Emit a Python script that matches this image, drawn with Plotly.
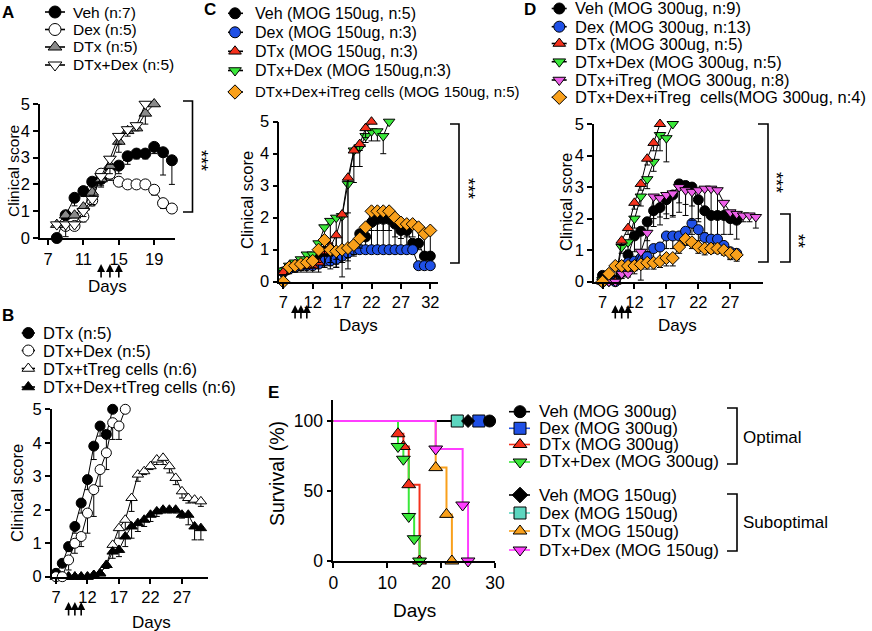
import plotly.graph_objects as go

W, H = 872, 631
FONT = "Liberation Sans, Arial, Helvetica, sans-serif"

BLUE = "#1f50e6"; RED = "#f5311c"; GREEN = "#3ae83a"; ORANGE = "#f9a01b"
PINK = "#ec5fe8"; MAGENTA = "#ff3dff"; TEAL = "#5cd6bf"; GRAY = "#8a8a8a"

# ---------------- Panel A ----------------
A_veh_days = [8, 9, 10, 11, 12, 13, 14, 15, 16, 17, 18, 19, 20, 21]
A_veh = [0, 0.85, 1.5, 1.75, 2.1, 2.2, 2.45, 2.7, 3.05, 3.15, 3.15, 3.4, 3.2, 2.9]
A_veh_err = [0, 0.3, 0.3, 0.2, 0.2, 0.25, 0.25, 0.3, 0.3, 0.2, 0.2, 0.25, 0.85, 0.9]
A_dex_days = [9, 10, 11, 12, 13, 14, 15, 16, 17, 18, 19, 20, 21]
A_dex = [0.45, 0.45, 0.8, 1.4, 2.4, 2.4, 2.1, 2.0, 2.0, 2.0, 1.8, 1.3, 1.1]
A_dex_err = [0, 0, 0.2, 0.2, 0.2, 0.25, 0.15, 0.1, 0.1, 0.1, 0.2, 0.2, 0.1]
A_dtx_days = [8, 9, 10, 11, 12, 13, 14, 15, 16, 17, 18, 19]
A_dtx = [0.5, 0.85, 0.85, 1.15, 1.7, 2.2, 2.7, 3.6, 4.0, 4.1, 4.65, 5.0]
A_dtx_err = [0, 0, 0.1, 0.2, 0.2, 0.3, 0.3, 0.4, 0.2, 0.1, 0.4, 0]
A_dtxdex_days = [8, 9, 10, 11, 12, 13, 14, 15, 16, 17, 18]
A_dtxdex = [0.5, 0.5, 0.5, 1.0, 1.45, 2.3, 2.95, 3.8, 4.05, 4.2, 5.0]
A_dtxdex_err = [0, 0.45, 0, 0.2, 0.2, 0.2, 0.2, 0.3, 0.1, 0.1, 0]
A_treat_days = [13, 14, 15]
A_xticks = [7, 11, 15, 19]

# ---------------- Panel B ----------------
B_dtx_days = [7, 8, 9, 10, 11, 12, 13, 14, 15, 16]
B_dtx = [0.1, 0.4, 0.9, 1.5, 2.2, 2.9, 3.9, 4.5, 4.25, 5.0]
B_dtx_err = [0, 0.1, 0.15, 0.2, 0.3, 0.3, 0.4, 0.3, 0.5, 0]
B_dtxdex_days = [7, 8, 9, 10, 11, 12, 13, 14, 15, 16, 17, 18]
B_dtxdex = [0, 0, 0.5, 1.0, 1.2, 1.9, 2.6, 3.2, 3.7, 4.6, 4.5, 5.0]
B_dtxdex_err = [0, 0, 0.3, 0.3, 0.3, 0.6, 0.8, 0.5, 0.5, 0.5, 0.4, 0]
B_ttreg_days = list(range(7, 31))
B_ttreg = [0, 0, 0, 0, 0, 0, 0.05, 0.1, 0.35, 0.95, 1.45, 1.7, 2.35, 3.05, 3.15, 3.3,
           3.5, 3.55, 3.3, 2.95, 2.55, 2.35, 2.3, 2.25]
B_ttreg_err = [0, 0, 0, 0, 0, 0, 0, 0, 0.1, 0.2, 0.3, 0.3, 0.4, 0.2, 0.1, 0.1,
               0.15, 0.2, 0.2, 0.2, 0.2, 0.15, 0.1, 0.15]
B_dexttreg_days = list(range(7, 31))
B_dexttreg = [0, 0, 0, 0, 0, 0, 0.05, 0.1, 0.35, 0.75, 0.8, 1.2, 1.5, 1.6, 1.7, 1.85,
              1.95, 2.0, 2.0, 2.0, 1.85, 1.85, 1.5, 1.45]
B_dexttreg_err = [0, 0, 0, 0, 0, 0, 0, 0, 0.1, 0.2, 0.2, 0.3, 0.35, 0.25, 0.2, 0.2,
                  0.15, 0.1, 0.1, 0.1, 0.1, 0.3, 0.4, 0.35]
B_treat_days = [9, 10, 11]
B_xticks = [7, 12, 17, 22, 27]

# ---------------- Panel C ----------------
C_days = list(range(7, 33))
C_veh = [0.3, 0.4, 0.5, 0.55, 0.6, 0.6, 0.7, 0.75, 0.8, 0.85, 0.9, 0.95, 1.0, 1.5, 1.4,
         1.85, 1.95, 1.95, 1.95, 1.8, 1.6, 1.6, 1.2, 1.2, 0.8, 0.8]
C_veh_err = [0.1, 0.1, 0.1, 0.1, 0.1, 0.1, 0.2, 0.3, 0.3, 0.3, 0.3, 0.3, 0.2, 0.35, 0.3,
             0.9, 0.9, 0.9, 0.9, 0.8, 0.6, 0.6, 0.2, 0.2, 0.05, 0.05]
C_dex = [0.3, 0.4, 0.45, 0.5, 0.5, 0.5, 0.55, 0.65, 0.65, 0.7, 0.8, 0.9, 1.0, 1.0, 1.0,
         1.0, 1.0, 1.0, 1.0, 1.0, 1.0, 1.0, 1.0, 0.5, 0.5, 0.5]
C_dex_err = [0.1, 0.1, 0.1, 0.1, 0.1, 0.1, 0.1, 0.1, 0.1, 0.1, 0.1, 0.05, 0, 0, 0,
             0, 0, 0, 0, 0, 0, 0, 0, 0, 0, 0]
C_dtx_days = list(range(7, 23))
C_dtx = [0.3, 0.5, 0.5, 0.5, 0.5, 0.5, 0.6, 0.95, 1.1, 1.45, 2.1, 3.25, 4.1, 4.3, 4.8, 5.0]
C_dtx_err = [0.1, 0.15, 0.2, 0.2, 0.2, 0.2, 0.3, 0.5, 0.5, 1.0, 1.5, 1.1, 0.5, 0.2, 0.3, 0]
C_dtxdex_days = list(range(7, 26))
C_dtxdex = [0.35, 0.5, 0.6, 0.7, 0.85, 0.85, 1.2, 1.7, 1.9, 2.0, 2.05, 3.05, 4.1, 4.2,
            4.55, 4.7, 4.7, 4.55, 5.0]
C_dtxdex_err = [0.1, 0.15, 0.2, 0.2, 0.3, 0.3, 0.4, 0.6, 0.7, 1.3, 1.9, 2.65, 1.0, 0.6,
                0.2, 0.3, 0.3, 0.55, 0]
C_itreg = [0, 0.45, 0.5, 0.55, 0.6, 0.65, 1.0, 1.3, 1.0, 0.95, 1.0, 1.05, 1.15, 1.35, 1.7,
           2.2, 2.2, 2.2, 2.2, 2.0, 1.85, 1.8, 1.8, 1.7, 1.5, 1.6]
C_itreg_err = [0, 0.2, 0.2, 0.2, 0.2, 0.2, 0.4, 0.5, 0.6, 0.5, 0.4, 0.3, 0.3, 0.3, 0.4,
               0.6, 0.6, 0.6, 0.6, 0.6, 0.5, 0.4, 0.4, 0.5, 0.6, 0.8]
C_treat_days = [9, 10, 11]
C_xticks = [7, 12, 17, 22, 27, 32]

# ---------------- Panel D ----------------
D_days = list(range(7, 29))
D_veh = [0.2, 0.1, 0.05, 0.5, 0.85, 1.45, 1.6, 1.9, 2.25, 2.35, 2.6, 2.75, 3.1, 3.05, 3.0,
         2.6, 2.25, 2.1, 2.1, 2.1, 2.0, 1.95]
D_veh_err = [0, 0, 0, 0.3, 0.4, 0.5, 0.6, 0.6, 0.5, 0.55, 0.6, 0.7, 0.6, 0.6, 0.6, 0.7,
             0.7, 0.7, 0.9, 0.6, 0.5, 0.6]
D_dex = [0, 0.05, 0, 0.3, 0.6, 0.65, 0.75, 0.8, 1.05, 1.1, 1.45, 1.45, 1.45, 1.6, 1.85,
         1.65, 1.4, 1.35, 1.35, 1.15, 0.95, 0.9]
D_dex_err = [0, 0, 0, 0.2, 0.3, 0.3, 0.3, 0.3, 0.35, 0.35, 0.4, 0.4, 0.4, 0.4, 0.35, 0.35,
             0.35, 0.3, 0.3, 0.3, 0.2, 0.2]
D_dtx_days = list(range(7, 17))
D_dtx = [0, 0, 0, 1.3, 1.7, 2.5, 3.1, 3.9, 4.4, 5.0]
D_dtx_err = [0, 0, 0, 0.15, 0.2, 0.2, 0.2, 0.2, 0.25, 0]
D_dtxdex_days = list(range(7, 19))
D_dtxdex = [0.05, 0, 0, 1.1, 1.25, 2.0, 2.7, 3.25, 3.8, 4.65, 4.55, 5.0]
D_dtxdex_err = [0, 0, 0, 0.2, 0.25, 0.3, 0.3, 0.3, 0.3, 0.5, 0.75, 0]
D_itreg_days = list(range(7, 32))
D_itreg = [0, 0, 0, 0.25, 0.25, 0.55, 0.95, 1.55, 2.7, 2.65, 2.75, 2.8, 3.0, 2.9, 2.85,
           2.9, 2.95, 2.95, 2.9, 2.5, 2.2, 2.15, 2.1, 2.1, 2.05]
D_itreg_err = [0, 0, 0, 0.1, 0.1, 0.3, 0.9, 0.6, 0.7, 0.6, 0.6, 0.7, 0.8, 0.8, 0.9, 0.9,
               0.8, 0.8, 0.7, 0.5, 0.3, 0.2, 0.2, 0.2, 0.35]
D_dexitreg = [0, 0.25, 0.5, 0.5, 0.5, 0.5, 0.55, 0.6, 0.6, 0.65, 0.75, 0.75, 1.1, 1.35,
              1.25, 1.1, 1.05, 1.05, 1.05, 1.0, 0.9, 0.85]
D_dexitreg_err = [0, 0, 0, 0.1, 0.15, 0.15, 0.15, 0.2, 0.2, 0.2, 0.25, 0.25, 0.2, 0.2,
                  0.2, 0.2, 0.2, 0.15, 0.15, 0.15, 0.2, 0.2]
D_treat_days = [9, 10, 11]
D_xticks = [7, 12, 17, 22, 27]

# ---------------- Panel E (survival) ----------------
E_veh300_days = [0, 29]; E_veh300 = [100, 100]
E_dex300_days = [0, 27]; E_dex300 = [100, 100]
E_dtx300_days = [0, 12, 13, 14, 16]; E_dtx300 = [100, 90.9, 81.8, 54.5, 0]
E_dtxdex300_days = [0, 12, 13, 14, 15, 16]; E_dtxdex300 = [100, 81.8, 72.7, 31.8, 15.9, 0]
E_veh150_days = [0, 25]; E_veh150 = [100, 100]
E_dex150_days = [0, 23]; E_dex150 = [100, 100]
E_dtx150_days = [0, 19, 21, 22]; E_dtx150 = [100, 66.7, 33.3, 0]
E_dtxdex150_days = [0, 19, 24, 25]; E_dtxdex150 = [100, 80, 40, 0]
E_xticks = [0, 10, 20, 30]
E_yticks = [0, 50, 100]

fig = go.Figure()
layout = {}
annotations = []
shapes = []


def axes(n, xpx, ypx, xrange, yrange, xticks, yticks, fsize=16.5):
    sx = "" if n == 1 else str(n)
    common = dict(showline=True, linecolor="black", linewidth=1.6, ticks="outside",
                  ticklen=5, tickwidth=1.6, tickcolor="black", showgrid=False,
                  zeroline=False, fixedrange=True, automargin=False,
                  tickfont=dict(family=FONT, size=fsize, color="black"))
    layout["xaxis" + sx] = dict(domain=[xpx[0] / W, xpx[1] / W], range=xrange,
                                anchor="y" + sx, tickvals=xticks, **common)
    layout["yaxis" + sx] = dict(domain=[1 - ypx[1] / H, 1 - ypx[0] / H], range=yrange,
                                anchor="x" + sx, tickvals=yticks, **common)
    return "x" + sx, "y" + sx


def series(ax, days, vals, err, symbol, fill, size=10):
    xa, ya = ax
    fig.add_trace(go.Scatter(
        x=days, y=vals, xaxis=xa, yaxis=ya, mode="lines+markers",
        line=dict(color="black", width=1),
        marker=dict(symbol=symbol, size=size, color=fill, line=dict(color="black", width=1)),
        error_y=dict(type="data", symmetric=False, array=[0] * len(vals), arrayminus=err,
                     color="black", thickness=1, width=3),
        cliponaxis=False, hoverinfo="skip"))


def text(x, y, s, size=16, xanchor="left", angle=0, bold=False):
    annotations.append(dict(
        x=x / W, y=1 - y / H, xref="paper", yref="paper", text=("<b>%s</b>" % s) if bold else s,
        showarrow=False, xanchor=xanchor, yanchor="middle", textangle=angle,
        font=dict(family=FONT, size=size, color="black")))


def arrows(ax, days, ytip):
    for d in days:
        annotations.append(dict(x=d, y=1 - ytip / H, xref=ax[0], yref="paper", text="",
                                showarrow=True, arrowhead=2, arrowsize=1, arrowwidth=1.6,
                                arrowcolor="black", ax=0, ay=15))


def bracket(x0, x1, y0, y1):
    shapes.append(dict(type="path", xref="x6", yref="y6",
                       path=f"M {x0},{y0} L {x1},{y0} L {x1},{y1} L {x0},{y1}",
                       line=dict(color="black", width=1.6)))


# ---- Axes ----
axA = axes(1, (40, 175), (104, 238), [6.1, 21.35], [0, 5], A_xticks, [0, 1, 2, 3, 4, 5])
axB = axes(2, (51.7, 208), (409.3, 576.7), [6.32, 31.13], [0, 5], B_xticks, [0, 1, 2, 3, 4, 5])
axC = axes(3, (279.3, 438), (121.7, 281.7), [6.32, 33.31], [0, 5], C_xticks, [0, 1, 2, 3, 4, 5])
axD = axes(4, (594, 763), (124, 281.7), [5.67, 32.12], [0, 5], D_xticks, [0, 1, 2, 3, 4, 5])
axE = axes(5, (333.3, 495), (400, 561), [0, 30], [0, 115], E_xticks, E_yticks, fsize=17.5)
layout["xaxis6"] = dict(domain=[0, 1], range=[0, W], visible=False, fixedrange=True, anchor="y6")
layout["yaxis6"] = dict(domain=[0, 1], range=[H, 0], visible=False, fixedrange=True, anchor="x6")

# ---- Panel A ----
series(axA, A_veh_days, A_veh, A_veh_err, "circle", "black", 11)
series(axA, A_dex_days, A_dex, A_dex_err, "circle", "white", 11)
series(axA, A_dtx_days, A_dtx, A_dtx_err, "triangle-up", GRAY, 11)
series(axA, A_dtxdex_days, A_dtxdex, A_dtxdex_err, "triangle-down", "white", 11)

# ---- Panel B ----
series(axB, B_ttreg_days, B_ttreg, B_ttreg_err, "triangle-up", "white", 10)
series(axB, B_dexttreg_days, B_dexttreg, B_dexttreg_err, "triangle-up", "black", 10)
series(axB, B_dtx_days, B_dtx, B_dtx_err, "circle", "black", 10)
series(axB, B_dtxdex_days, B_dtxdex, B_dtxdex_err, "circle", "white", 10)

# ---- Panel C ----
series(axC, C_days, C_veh, C_veh_err, "circle", "black", 10)
series(axC, C_days, C_dex, C_dex_err, "circle", BLUE, 10)
series(axC, C_dtxdex_days, C_dtxdex, C_dtxdex_err, "triangle-down", GREEN, 10)
series(axC, C_dtx_days, C_dtx, C_dtx_err, "triangle-up", RED, 10)
series(axC, C_days, C_itreg, C_itreg_err, "diamond", ORANGE, 10)

# ---- Panel D ----
series(axD, D_days, D_veh, D_veh_err, "circle", "black", 10)
series(axD, D_days, D_dex, D_dex_err, "circle", BLUE, 10)
series(axD, D_dtxdex_days, D_dtxdex, D_dtxdex_err, "triangle-down", GREEN, 10)
series(axD, D_dtx_days, D_dtx, D_dtx_err, "triangle-up", RED, 10)
series(axD, D_itreg_days, D_itreg, D_itreg_err, "triangle-down", PINK, 10)
series(axD, D_days, D_dexitreg, D_dexitreg_err, "diamond", ORANGE, 10)

# ---- Panel E ----
E_series = [
    (E_dex150_days, E_dex150, TEAL, "square", TEAL),
    (E_dex300_days, E_dex300, BLUE, "square", BLUE),
    (E_veh150_days, E_veh150, "black", "diamond", "black"),
    (E_veh300_days, E_veh300, "black", "circle", "black"),
    (E_dtx150_days, E_dtx150, ORANGE, "triangle-up", ORANGE),
    (E_dtx300_days, E_dtx300, RED, "triangle-up", RED),
    (E_dtxdex300_days, E_dtxdex300, GREEN, "triangle-down", GREEN),
    (E_dtxdex150_days, E_dtxdex150, MAGENTA, "triangle-down", MAGENTA),
]
for d, v, lc, sym, fc in E_series:
    fig.add_trace(go.Scatter(x=d, y=v, xaxis=axE[0], yaxis=axE[1], mode="lines",
                             line=dict(color=lc, width=2, shape="hv"), cliponaxis=False,
                             hoverinfo="skip"))
for d, v, lc, sym, fc in E_series:
    fig.add_trace(go.Scatter(x=d[1:], y=v[1:], xaxis=axE[0], yaxis=axE[1], mode="markers",
                             marker=dict(symbol=sym, size=12 if sym != "diamond" else 10,
                                         color=fc, line=dict(color="black", width=1)),
                             cliponaxis=False, hoverinfo="skip"))


# ---- Legends (drawn in pixel overlay axes) ----
def legend(rows, xl0, xl1, xm, tx, fsize, msize=12):
    for row in rows:
        y, sym, fill, lc, label = row[:5]
        fs = row[5] if len(row) > 5 else fsize
        fig.add_trace(go.Scatter(x=[xl0, xm, xl1], y=[y, y, y], xaxis="x6", yaxis="y6",
                                 mode="lines+markers", line=dict(color=lc, width=1.6),
                                 marker=dict(symbol=sym, size=msize, color=fill,
                                             opacity=[0, 1, 0],
                                             line=dict(color="black", width=1)),
                                 cliponaxis=False, hoverinfo="skip"))
        text(tx, y, label, fs)


legend([(12, "circle", "black", "black", "Veh (n:7)"),
        (29.5, "circle", "white", "black", "Dex (n:5)"),
        (47, "triangle-up", GRAY, "black", "DTx (n:5)"),
        (65, "triangle-down", "white", "black", "DTx+Dex (n:5)")],
       45, 65, 55, 71, 15.5)
legend([(333, "circle", "black", "black", "DTx (n:5)"),
        (350.5, "circle", "white", "black", "DTx+Dex (n:5)"),
        (368.5, "triangle-up", "white", "black", "DTx+tTreg cells (n:6)"),
        (387, "triangle-up", "black", "black", "DTx+Dex+tTreg cells (n:6)")],
       21.7, 35, 28.3, 41, 16.5, 11)
legend([(13.3, "circle", "black", "black", "Veh (MOG 150ug, n:5)"),
        (32.3, "circle", BLUE, "black", "Dex (MOG 150ug, n:3)"),
        (51.3, "triangle-up", RED, "black", "DTx (MOG 150ug, n:3)"),
        (70.5, "triangle-down", GREEN, "black", "DTx+Dex (MOG 150ug,n:3)"),
        (92, "diamond", ORANGE, "black", "DTx+Dex+iTreg cells (MOG 150ug, n:5)", 15)],
       228, 243, 235, 253, 16, 11)
legend([(8.5, "circle", "black", "black", "Veh (MOG 300ug, n:9)"),
        (26.7, "circle", BLUE, "black", "Dex (MOG 300ug, n:13)"),
        (43.5, "triangle-up", RED, "black", "DTx (MOG 300ug, n:5)"),
        (61.7, "triangle-down", GREEN, "black", "DTx+Dex (MOG 300ug, n:5)"),
        (80, "triangle-down", PINK, "black", "DTx+iTreg (MOG 300ug, n:8)"),
        (97.3, "diamond", ORANGE, "black", "DTx+Dex+iTreg\u00a0\u00a0cells(MOG 300ug, n:4)")],
       551.7, 566.7, 559.3, 573, 16.5, 11)
legend([(411.7, "circle", "black", "black", "Veh (MOG 300ug)"),
        (428.3, "square", BLUE, BLUE, "Dex (MOG 300ug)"),
        (444.5, "triangle-up", RED, RED, "DTx (MOG 300ug)"),
        (462, "triangle-down", GREEN, GREEN, "DTx+Dex (MOG 300ug)"),
        (495, "diamond", "black", "black", "Veh (MOG 150ug)"),
        (513, "square", TEAL, TEAL, "Dex (MOG 150ug)"),
        (531, "triangle-up", ORANGE, ORANGE, "DTx (MOG 150ug)"),
        (550, "triangle-down", MAGENTA, MAGENTA, "DTx+Dex (MOG 150ug)")],
       509, 530, 520, 537, 17, 12)

# ---- Titles, labels ----
text(8, 12, "A", 17, "center", bold=True)
text(8, 315, "B", 17, "center", bold=True)
text(210, 10, "C", 17, "center", bold=True)
text(530, 10, "D", 17, "center", bold=True)
text(273, 392, "E", 17, "center", bold=True)

text(13, 171, "Clinical score", 15.5, "center", -90)
text(17, 493, "Clinical score", 16.5, "center", -90)
text(247, 200, "Clinical score", 16.5, "center", -90)
text(566, 202, "Clinical score", 16.5, "center", -90)
text(277, 474, "Survival (%)", 19.5, "center", -90)
text(107, 287, "Days", 17, "center")
text(151, 622, "Days", 17, "center")
text(358, 325, "Days", 17, "center")
text(677, 325, "Days", 17, "center")
text(414, 610, "Days", 19, "center")

arrows(axA, A_treat_days, 264)
arrows(axB, B_treat_days, 602)
arrows(axC, C_treat_days, 305)
arrows(axD, D_treat_days, 305)

bracket(183, 192.5, 101, 212)
text(201, 160, "***", 18, "center", 90)
bracket(450, 459, 124, 263)
text(468, 188, "***", 18, "center", 90)
bracket(758, 768, 124, 262)
text(776, 182, "***", 18, "center", 90)
bracket(780, 790, 214, 262)
text(798, 241, "**", 18, "center", 90)
bracket(727, 737, 408, 464)
text(741, 437, "Optimal", 17)
bracket(727, 737, 494, 551)
text(741, 522, "Suboptimal", 17)

fig.update_layout(width=W, height=H, margin=dict(l=0, r=0, t=0, b=0, pad=0),
                  template="none",
                  paper_bgcolor="white", plot_bgcolor="rgba(0,0,0,0)", showlegend=False,
                  font=dict(family=FONT, color="black"),
                  annotations=annotations, shapes=shapes, **layout)
fig.write_html("out.html", config={"displayModeBar": False},
               post_script="document.body.style.margin='0px';"
                           "document.documentElement.style.overflow='hidden';")
